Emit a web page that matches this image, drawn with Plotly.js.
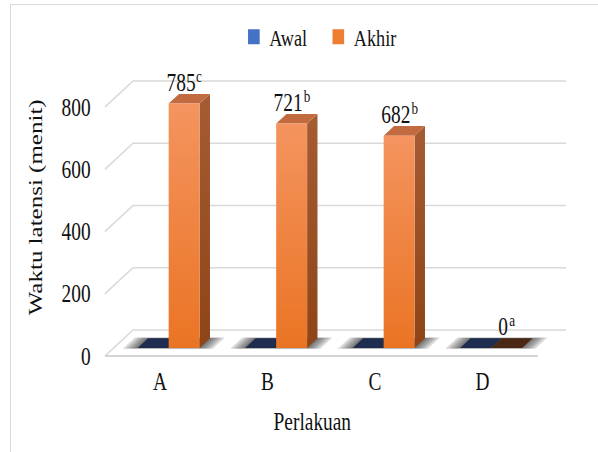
<!DOCTYPE html>
<html>
<head>
<meta charset="utf-8">
<script src="https://cdn.plot.ly/plotly-3.0.1.min.js"></script>
<style>
  html, body { margin: 0; padding: 0; background: #fff; overflow: hidden; width: 598px; height: 452px; }
  #frame { position: absolute; left: 10px; top: 4px; width: 700px; height: 600px; border: 1.5px solid #d9d9d9; }
  /* the chart is laid out wide and squeezed horizontally into the page */
  #chart { position: absolute; left: 0; top: 0; width: 772px; height: 452px;
           transform: scaleX(0.775); transform-origin: 0 0; }
</style>
</head>
<body>
<div id="frame"></div>
<div id="chart"></div>
<script>
// ---- data ----
const categories = ['A', 'B', 'C', 'D'];
const awal = [0, 0, 0, 0];
const akhir = [785, 721, 682, 0];
const akhirLetters = ['c', 'b', 'b', 'a'];
const yTickValues = [0, 200, 400, 600, 800];

// ---- pseudo-3D geometry (category units on x, value units on y) ----
const BAR_W = 0.288;          // width of one bar
const DX = 0.2605, DV = 83.5; // full floor depth projected on x and y
const Z0 = 0.31, Z1 = 0.68;   // depth band occupied by the bars
const FLOOR_L = -0.512, FLOOR_R = 3.516;

const FONT = '"Liberation Serif", "Times New Roman", serif';
const TEXT = '#111';
const LABEL_SIZE = 25, LETTER_SIZE = 17;

const traces = [];

function poly(xs, ys, fill, extra) {
  const t = {
    type: 'scatter', mode: 'lines', x: xs.concat([xs[0]]), y: ys.concat([ys[0]]),
    fill: 'toself', fillcolor: fill, line: { width: 0, color: fill },
    hoverinfo: 'skip', showlegend: false
  };
  return Object.assign(t, extra || {});
}

// wall and floor gridlines
const gx = [], gy = [];
yTickValues.forEach(v => {
  gx.push(FLOOR_L, FLOOR_L + DX, FLOOR_R + DX, null);
  gy.push(v, v + DV, v + DV, null);
});
traces.push({ type: 'scatter', mode: 'lines', x: gx, y: gy,
  line: { color: '#d9d9d9', width: 1.6 }, hoverinfo: 'skip', showlegend: false });
traces.push({ type: 'scatter', mode: 'lines', x: [FLOOR_L, FLOOR_R], y: [0, 0],
  line: { color: '#d4d4d4', width: 2.2 }, hoverinfo: 'skip', showlegend: false });

// soft floor shadows under each group
categories.forEach((cat, i) => {
  [0.13, 0.10, 0.07, 0.04, 0.015].forEach(e => {
    const x0 = i - BAR_W - e, x1 = i + BAR_W + e;
    const za = Z0 - e * 0.25, zb = Z1 + e * 0.25;
    traces.push(poly(
      [x0 + za * DX, x1 + za * DX, x1 + zb * DX, x0 + zb * DX],
      [za * DV, za * DV, zb * DV, zb * DV],
      'rgba(40,40,40,0.18)'));
  });
});

// one box (front, side, top) per bar
function box(x0, x1, v, colors) {
  const a = Z0 * DX, b = Z1 * DX, p = Z0 * DV, q = Z1 * DV;
  if (v <= 0) {
    traces.push(poly([x0 + a, x1 + a, x1 + b, x0 + b], [p, p, q, q], colors.flat));
    return;
  }
  traces.push(poly([x1 + a, x1 + b, x1 + b, x1 + a], [p, q, v + q, v + p], colors.side[1],
    { fillgradient: { type: 'vertical', colorscale: [[0, colors.side[0]], [1, colors.side[1]]] } }));
  traces.push(poly([x0 + a, x1 + a, x1 + b, x0 + b], [v + p, v + p, v + q, v + q], colors.top));
  traces.push(poly([x0 + a, x1 + a, x1 + a, x0 + a], [p, p, v + p, v + p], colors.front[1],
    { fillgradient: { type: 'vertical', colorscale: [[0, colors.front[0]], [1, colors.front[1]]] } }));
}

const awalColors = { flat: '#1e2d4f', side: ['#22396b', '#2d4a85'], top: '#3a5ea3', front: ['#3d68b8', '#5a86d2'] };
const akhirColors = { flat: '#4a2813', side: ['#8d4416', '#a65c33'], top: '#c26b40', front: ['#ea7424', '#f4945f'] };

categories.forEach((cat, i) => {
  box(i - BAR_W, i, awal[i], awalColors);
  box(i, i + BAR_W, akhir[i], akhirColors);
});

// legend entries
traces.push({ type: 'scatter', mode: 'markers', x: [null], y: [null], name: 'Awal',
  marker: { symbol: 'square', size: 15, color: '#4472c4' } });
traces.push({ type: 'scatter', mode: 'markers', x: [null], y: [null], name: 'Akhir',
  marker: { symbol: 'square', size: 15, color: '#ed7d31' } });

// value labels, each followed by a raised significance letter
const annotations = [];
categories.forEach((cat, i) => {
  const ax = i + BAR_W / 2 + Z0 * DX, ay = akhir[i] + Z0 * DV;
  const numW = String(akhir[i]).length * 0.5 * LABEL_SIZE;
  const letW = 0.47 * LETTER_SIZE;
  annotations.push({
    x: ax, y: ay, xref: 'x', yref: 'y', text: String(akhir[i]),
    showarrow: false, xanchor: 'center', yanchor: 'bottom', xshift: -letW / 2, yshift: 6,
    font: { family: FONT, size: LABEL_SIZE, color: TEXT }
  });
  annotations.push({
    x: ax, y: ay, xref: 'x', yref: 'y', text: akhirLetters[i],
    showarrow: false, xanchor: 'left', yanchor: 'bottom', xshift: numW / 2 - letW / 2 - 1, yshift: 15.5,
    font: { family: FONT, size: LETTER_SIZE, color: TEXT }
  });
});
annotations.push({
  text: 'Perlakuan', xref: 'paper', yref: 'paper', x: 0.4535, y: -0.162,
  xanchor: 'center', yanchor: 'middle', showarrow: false,
  font: { family: FONT, size: 25, color: TEXT }
});
annotations.push({
  text: 'Waktu latensi (menit)', xref: 'paper', yref: 'paper', x: -0.139, y: 0.491,
  xanchor: 'center', yanchor: 'middle', textangle: -90, showarrow: false,
  font: { family: FONT, size: 25, color: TEXT }
});

const layout = {
  width: 772, height: 452,
  margin: { l: 130, r: 40, t: 40, b: 84 },
  paper_bgcolor: 'rgba(0,0,0,0)', plot_bgcolor: 'rgba(0,0,0,0)',
  showlegend: true,
  legend: { orientation: 'h', x: 0.476, y: 1.009, xanchor: 'center', yanchor: 'middle',
    entrywidth: 64, entrywidthmode: 'pixels',
    font: { family: FONT, size: 23.5, color: TEXT }, bgcolor: 'rgba(0,0,0,0)' },
  xaxis: { range: [-0.551, 3.789], tickvals: categories.map((c, i) => i), ticktext: categories,
    showgrid: false, zeroline: false, showline: false, ticks: '', ticklabelstandoff: -4,
    tickfont: { family: FONT, size: 25, color: TEXT }, fixedrange: true },
  yaxis: { range: [-38.6, 1015.3], tickvals: yTickValues, showgrid: false, zeroline: false,
    showline: false, ticks: '', ticklabelstandoff: 12,
    tickfont: { family: FONT, size: 25, color: TEXT }, fixedrange: true },
  annotations: annotations
};

Plotly.newPlot('chart', traces, layout, { displayModeBar: false, staticPlot: true });
</script>
</body>
</html>
